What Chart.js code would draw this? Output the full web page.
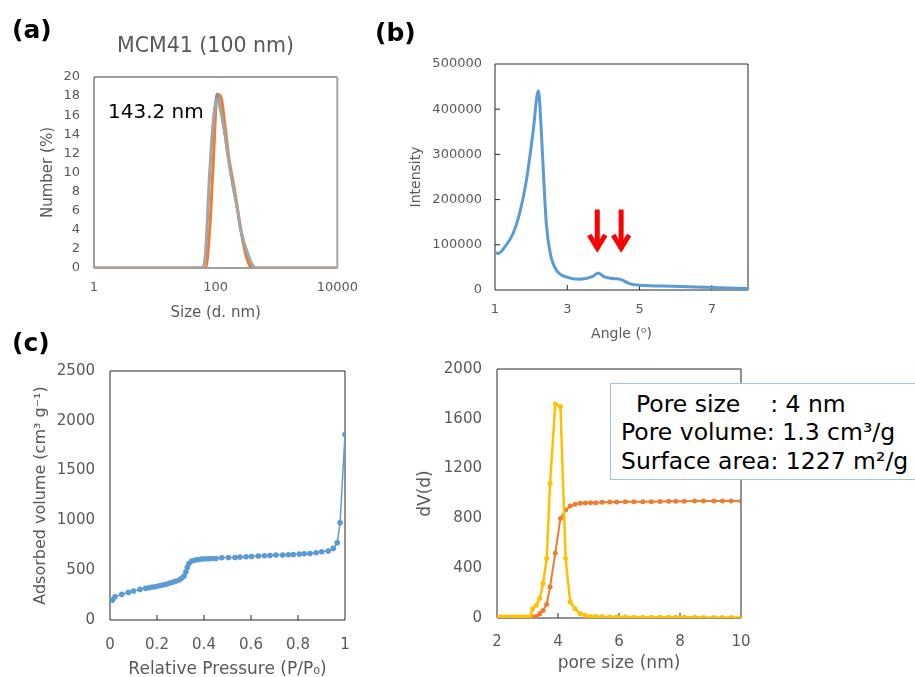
<!DOCTYPE html>
<html>
<head>
<meta charset="utf-8">
<script src="https://cdn.jsdelivr.net/npm/chart.js@4.4.1/dist/chart.umd.min.js"></script>
<style>
  body { margin: 0; width: 915px; height: 677px; overflow: hidden; background: #fff; position: relative; font-family: "DejaVu Sans", Verdana, sans-serif; }
  canvas { position: absolute; }
  .tag { position: absolute; font-weight: bold; font-size: 25px; line-height: 30px; color: #000; }
  #dls-title { position: absolute; left: 0; top: 33px; width: 411px; text-align: center; font-size: 20.5px; line-height: 24px; color: #595959; }
  #dls-note { position: absolute; left: 108px; top: 99px; font-size: 20px; line-height: 24px; color: #000; }
  #info { position: absolute; left: 610px; top: 383px; width: 330px; height: 97px; box-sizing: border-box;
          border: 1.5px solid #9dc3e6; background: #fff; padding: 6px 0 0 10px;
          font-size: 23.5px; line-height: 28.3px; color: #000; white-space: pre; }
</style>
</head>
<body>
<canvas id="chartA" width="370" height="330" style="left:0;top:0"></canvas>
<canvas id="chartB" width="410" height="345" style="left:370px;top:0"></canvas>
<canvas id="chartC" width="370" height="340" style="left:0;top:345px"></canvas>
<canvas id="chartD" width="410" height="340" style="left:370px;top:345px"></canvas>

<div class="tag" style="left:12px;top:15px">(a)</div>
<div class="tag" style="left:375px;top:18px">(b)</div>
<div class="tag" style="left:12px;top:328px">(c)</div>
<div id="dls-title">MCM41 (100 nm)</div>
<div id="dls-note">143.2 nm</div>
<div id="info">  Pore size    : 4 nm
Pore volume: 1.3 cm³/g
Surface area: 1227 m²/g</div>

<script>
// (a) DLS size distribution, three runs
const dlsSize   = [1, 50.75, 58.77, 68.06, 78.82, 91.28, 105.7, 122.4, 141.8, 164.2, 190.1, 220.2, 255.0, 295.3, 342.0, 396.1, 458.7, 10000];
const dlsGray   = [0, 0, 0, 1.5, 9.5, 15.3, 17.6, 16.3, 14.0, 11.2, 8.8, 6.7, 4.2, 2.6, 1.4, 0.4, 0, 0];
const dlsBlue   = [0, 0, 0, 1.3, 9.2, 15.5, 18.2, 16.5, 13.8, 11.0, 8.6, 6.5, 4.0, 2.4, 1.2, 0.3, 0, 0];
const dlsOrange = [0, 0, 0, 0, 3.5, 11.0, 18.2, 17.9, 15.0, 11.6, 9.3, 6.9, 4.3, 2.1, 0.6, 0, 0, 0];
const dlsXTicks = [1, 100, 10000];
const dlsYTicks = [0, 2, 4, 6, 8, 10, 12, 14, 16, 18, 20];

// (b) small angle XRD
const xrdAngle     = [1.0, 1.08, 1.27, 1.50, 1.68, 1.87, 2.05, 2.20, 2.28, 2.35, 2.42, 2.53, 2.70, 2.97, 3.34, 3.71, 3.86, 4.03, 4.26, 4.49, 4.72, 5.0, 5.92, 7.02, 8.0];
const xrdIntensity = [83000, 80700, 95000, 125000, 169000, 243000, 347000, 441000, 354000, 243000, 147000, 80700, 43700, 28800, 23700, 30400, 37700, 28800, 25300, 23000, 14200, 10400, 8200, 5300, 3100];
const xrdXTicks = [1, 3, 5, 7];
const xrdYTicks = [0, 100000, 200000, 300000, 400000, 500000];
const arrowAngles = [3.83, 4.49];

// (c) N2 isotherm
const isoPressure = [0.011, 0.021, 0.05, 0.078, 0.10, 0.128, 0.152, 0.166, 0.18, 0.194, 0.209, 0.223, 0.237, 0.251, 0.265, 0.279, 0.294, 0.305, 0.315, 0.323, 0.329, 0.336, 0.348, 0.362, 0.376, 0.39, 0.404, 0.418, 0.433, 0.451, 0.475, 0.504, 0.532, 0.553, 0.579, 0.603, 0.631, 0.657, 0.681, 0.706, 0.735, 0.759, 0.78, 0.806, 0.826, 0.851, 0.877, 0.901, 0.929, 0.95, 0.967, 0.979, 1.0];
const isoVolume   = [200, 234, 257, 277, 291, 307, 318, 324, 331, 334, 344, 351, 358, 368, 378, 388, 401, 418, 441, 485, 528, 568, 592, 602, 608, 612, 615, 615, 618, 618, 625, 628, 628, 632, 635, 638, 642, 645, 648, 652, 652, 655, 658, 662, 665, 668, 675, 685, 692, 719, 775, 976, 1862];
const isoXTicks = [0, 0.2, 0.4, 0.6, 0.8, 1];
const isoYTicks = [0, 500, 1000, 1500, 2000, 2500];

// (d) BJH pore size distribution
const poreSize = [2.0, 2.1, 2.2, 2.3, 2.4, 2.5, 2.6, 2.7, 2.8, 2.9, 3.0, 3.08, 3.17, 3.29, 3.40, 3.51, 3.63, 3.74, 3.91, 4.08, 4.25, 4.40, 4.56, 4.73, 4.90, 5.07, 5.24, 5.45, 5.70, 5.92, 6.21, 6.49, 6.78, 7.06, 7.35, 7.63, 7.86, 8.14, 8.48, 8.77, 9.11, 9.39, 9.68, 10.0];
const poreDv   = [8, 8, 8, 8, 8, 8, 8, 8, 8, 8, 8, 10, 75, 102, 156, 277, 478, 1082, 1718, 1699, 478, 129, 75, 35, 21, 13, 12, 10, 8, 8, 8, 7, 7, 7, 6, 6, 6, 6, 6, 5, 5, 5, 5, 5];
const poreCum  = [4, 4, 4, 4, 4, 4, 4, 4, 4, 4, 4, 5, 8, 13, 35, 60, 110, 250, 520, 800, 867, 899, 913, 921, 923, 926, 926, 929, 932, 932, 934, 934, 934, 934, 935, 937, 937, 937, 940, 940, 940, 940, 940, 940];
const poreXTicks = [2, 4, 6, 8, 10];
const poreYTicks = [0, 400, 800, 1200, 1600, 2000];

const GRAY = '#595959';
Chart.defaults.font.family = "'DejaVu Sans', Verdana, sans-serif";
Chart.defaults.color = GRAY;
Chart.defaults.animation = false;
Chart.defaults.events = [];

const pairs = (xs, ys) => xs.map((x, i) => ({ x, y: ys[i] }));

function axis(o) {
  return {
    type: o.type || 'linear',
    min: o.min, max: o.max,
    grid: { display: false, drawTicks: false },
    border: { display: false },
    afterBuildTicks: s => { s.ticks = o.ticks.map(v => ({ value: v })); },
    afterFit: s => { if (o.width != null) s.width = o.width; if (o.height != null) s.height = o.height; },
    ticks: { font: { size: o.tickSize }, color: GRAY, padding: o.tickPad, autoSkip: false, maxRotation: 0, callback: v => String(v) },
    title: { display: true, text: o.title, font: { size: o.titleSize }, color: GRAY, padding: o.titlePad }
  };
}

// box around the plot area
const framePlugin = {
  id: 'frame',
  beforeDatasetsDraw(chart, args, opts) {
    const { ctx, chartArea: a } = chart;
    ctx.save();
    ctx.lineWidth = 1;
    ctx.strokeStyle = opts.color || '#262626';
    ctx.beginPath();
    ctx.moveTo(a.right, a.top); ctx.lineTo(a.left, a.top); ctx.lineTo(a.left, a.bottom); ctx.lineTo(a.right, a.bottom);
    ctx.stroke();
    ctx.lineWidth = opts.rightWidth || 1;
    ctx.strokeStyle = opts.rightColor || opts.color || '#262626';
    ctx.beginPath();
    ctx.moveTo(a.right, a.top); ctx.lineTo(a.right, a.bottom);
    ctx.stroke();
    // short ticks pointing into the plot
    ctx.lineWidth = 1;
    ctx.strokeStyle = opts.color || '#262626';
    ctx.beginPath();
    (opts.xTicks || []).forEach(v => {
      const px = chart.scales.x.getPixelForValue(v);
      ctx.moveTo(px, a.bottom); ctx.lineTo(px, a.bottom - 5);
    });
    (opts.yTicks || []).forEach(v => {
      const py = chart.scales.y.getPixelForValue(v);
      ctx.moveTo(a.left, py); ctx.lineTo(a.left + 5, py);
    });
    ctx.stroke();
    ctx.restore();
  }
};

// red arrows in (b)
const arrowPlugin = {
  id: 'arrows',
  afterDatasetsDraw(chart, args, opts) {
    if (!opts.at) return;
    const { ctx, scales } = chart;
    ctx.save();
    ctx.strokeStyle = '#ff0000';
    ctx.lineWidth = 5;
    ctx.lineJoin = 'miter';
    opts.at.forEach(v => {
      const x = scales.x.getPixelForValue(v);
      const y0 = scales.y.getPixelForValue(opts.from);
      const y1 = scales.y.getPixelForValue(opts.to);
      ctx.beginPath();
      ctx.moveTo(x, y0); ctx.lineTo(x, y1 - 3);
      ctx.stroke();
      ctx.beginPath();
      ctx.moveTo(x - 8, y1 - 17); ctx.lineTo(x, y1 - 4); ctx.lineTo(x + 8, y1 - 17);
      ctx.stroke();
    });
    ctx.restore();
  }
};

Chart.register(framePlugin, arrowPlugin);

const lineDs = (label, data, color, width) => ({
  label, data, borderColor: color, borderWidth: width, pointRadius: 0,
  cubicInterpolationMode: 'monotone', fill: false
});
const dotDs = (label, data, color, width, r) => ({
  label, data, borderColor: color, borderWidth: width, pointRadius: r,
  pointBackgroundColor: color, pointBorderWidth: 0, tension: 0, fill: false
});

// (a)
new Chart(document.getElementById('chartA'), {
  type: 'line',
  data: { datasets: [
    lineDs('run 3', pairs(dlsSize, dlsGray), '#a5a5a5', 3),
    lineDs('run 1', pairs(dlsSize, dlsBlue), '#5b9bd5', 2),
    lineDs('run 2', pairs(dlsSize, dlsOrange), '#ed7d31', 3)
  ] },
  options: {
    responsive: false,
    layout: { padding: { left: 0, right: 28, top: 77, bottom: 0 } },
    plugins: {
      legend: { display: false },
      tooltip: { enabled: false },
      frame: { color: '#404040', rightColor: '#a6a6a6', rightWidth: 2 }
    },
    scales: {
      x: axis({ type: 'logarithmic', min: 1, max: 10000, ticks: dlsXTicks, height: 62, tickSize: 13, tickPad: 12,
                title: 'Size (d. nm)', titleSize: 15, titlePad: { top: 0, bottom: 8 } }),
      y: axis({ min: 0, max: 20, ticks: dlsYTicks, width: 94, tickSize: 13, tickPad: 14,
                title: 'Number (%)', titleSize: 15, titlePad: { top: 39, bottom: 0 } })
    }
  }
});

// (b)
new Chart(document.getElementById('chartB'), {
  type: 'line',
  data: { datasets: [ lineDs('XRD', pairs(xrdAngle, xrdIntensity), '#5b9bd5', 3) ] },
  options: {
    responsive: false,
    layout: { padding: { left: 0, right: 32, top: 64, bottom: 0 } },
    plugins: {
      legend: { display: false },
      tooltip: { enabled: false },
      frame: { xTicks: [3, 5, 7], yTicks: [100000, 200000, 300000, 400000] },
      arrows: { at: arrowAngles, from: 178000, to: 84000 }
    },
    scales: {
      x: axis({ min: 1, max: 8, ticks: xrdXTicks, height: 55, tickSize: 13, tickPad: 12,
                title: 'Angle (\u2070)', titleSize: 14, titlePad: { top: 0, bottom: 2 } }),
      y: axis({ min: 0, max: 500000, ticks: xrdYTicks, width: 125, tickSize: 13, tickPad: 13,
                title: 'Intensity', titleSize: 14, titlePad: { top: 38, bottom: 0 } })
    }
  }
});

// (c)
new Chart(document.getElementById('chartC'), {
  type: 'line',
  data: { datasets: [ dotDs('isotherm', pairs(isoPressure, isoVolume), '#5b9bd5', 1.5, 2.8) ] },
  options: {
    responsive: false,
    layout: { padding: { left: 0, right: 25, top: 26, bottom: 0 } },
    plugins: {
      legend: { display: false },
      tooltip: { enabled: false },
      frame: { xTicks: [0.2, 0.4, 0.6, 0.8] }
    },
    scales: {
      x: axis({ min: 0, max: 1, ticks: isoXTicks, height: 65, tickSize: 15, tickPad: 16,
                title: 'Relative Pressure (P/P\u2080)', titleSize: 17, titlePad: { top: 0, bottom: 5 } }),
      y: axis({ min: 0, max: 2500, ticks: isoYTicks, width: 110, tickSize: 15, tickPad: 15,
                title: 'Adsorbed volume (cm\u00b3 g\u207b\u00b9)', titleSize: 16, titlePad: { top: 31, bottom: 0 } })
    }
  }
});

// (d)
new Chart(document.getElementById('chartD'), {
  type: 'line',
  data: { datasets: [
    dotDs('dV(d)', pairs(poreSize, poreDv), '#ffc000', 2.5, 2.5),
    dotDs('cumulative', pairs(poreSize, poreCum), '#ed7d31', 2, 2.5)
  ] },
  options: {
    responsive: false,
    layout: { padding: { left: 0, right: 39, top: 24, bottom: 0 } },
    plugins: {
      legend: { display: false },
      tooltip: { enabled: false },
      frame: { xTicks: [4, 6, 8] }
    },
    scales: {
      x: axis({ min: 2, max: 10, ticks: poreXTicks, height: 67, tickSize: 15, tickPad: 15,
                title: 'pore size (nm)', titleSize: 17, titlePad: { top: 0, bottom: 11 } }),
      y: axis({ min: 0, max: 2000, ticks: poreYTicks, width: 127, tickSize: 15, tickPad: 15,
                title: 'dV(d)', titleSize: 17, titlePad: { top: 45, bottom: 0 } })
    }
  }
});
</script>
</body>
</html>
